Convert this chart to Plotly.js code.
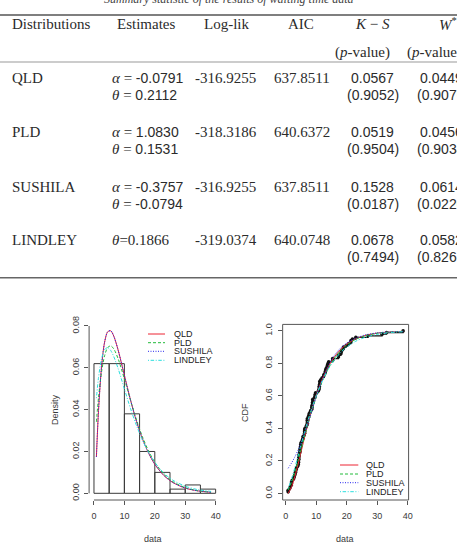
<!DOCTYPE html>
<html>
<head>
<meta charset="utf-8">
<script src="https://cdn.plot.ly/plotly-3.0.1.min.js"></script>
<style>
  html, body { margin: 0; padding: 0; background: #fff; }
  #chart { width: 457px; height: 544px; }
</style>
</head>
<body>
<div id="chart"></div>
<script>
// ---- Table of fitted distributions ----
const distributions = ['QLD', 'PLD', 'SUSHILA', 'LINDLEY'];
const estimateAlpha = ['-0.0791', '1.0830', '-0.3757', null];
const estimateTheta = ['0.2112', '0.1531', '-0.0794', '0.1866'];
const logLik = ['-316.9255', '-318.3186', '-316.9255', '-319.0374'];
const aicValues = ['637.8511', '640.6372', '637.8511', '640.0748'];
const ksStat = ['0.0567', '0.0519', '0.1528', '0.0678'];
const ksPValue = ['0.9052', '0.9504', '0.0187', '0.7494'];
const wStat = ['0.0449', '0.0456', '0.0614', '0.0582'];
const wPValue = ['0.9076', '0.9034', '0.0220', '0.8265'];

// ---- Waiting time data (minutes) ----
const waitingTimes = [0.8, 0.8, 1.3, 1.5, 1.8, 1.9, 1.9, 2.1, 2.6, 2.7, 2.9, 3.1, 3.2, 3.3, 3.5, 3.6, 4.0, 4.1, 4.2, 4.2,
  4.3, 4.3, 4.4, 4.4, 4.6, 4.7, 4.7, 4.8, 4.9, 4.9, 5.0, 5.3, 5.5, 5.7, 5.7, 6.1, 6.2, 6.2, 6.2, 6.3,
  6.7, 6.9, 7.1, 7.1, 7.1, 7.1, 7.4, 7.6, 7.7, 8.0, 8.2, 8.6, 8.6, 8.6, 8.8, 8.8, 8.9, 8.9, 9.5, 9.6,
  9.7, 9.8, 10.7, 10.9, 11.0, 11.0, 11.1, 11.2, 11.2, 11.5, 11.9, 12.4, 12.5, 12.9, 13.0, 13.1, 13.3, 13.6, 13.7, 13.9,
  14.1, 15.4, 15.4, 17.3, 17.3, 18.1, 18.2, 18.4, 18.9, 19.0, 19.9, 20.6, 21.3, 21.4, 21.9, 23.0, 27.0, 31.6, 33.1, 38.5];

// Histogram (density scale), bins of width 5 starting at these points
const binStarts = [0, 5, 10, 15, 20, 25, 30, 35];
const binDensity = [0.062, 0.062, 0.038, 0.020, 0.010, 0.002, 0.004, 0.002];

// Fitted density curves
const densityX = [0.8, 1.5, 2.5, 3.5, 4.5, 5.5, 6.5, 8, 10, 12, 14, 16, 18, 20, 23, 26, 30, 34, 38.5];
const densityQLD = [0.0174, 0.0397, 0.0607, 0.0723, 0.0772, 0.0777, 0.0752, 0.0682, 0.0564, 0.0447, 0.0343, 0.0258, 0.0191, 0.0139, 0.0085, 0.0051, 0.0025, 0.0012, 0.0005];
const densityPLD = [0.0342, 0.0458, 0.0581, 0.0658, 0.0697, 0.0705, 0.0691, 0.0641, 0.0547, 0.0446, 0.0350, 0.0268, 0.0201, 0.0148, 0.0091, 0.0055, 0.0027, 0.0013, 0.0005];
const densitySushila = [0.0174, 0.0397, 0.0607, 0.0723, 0.0772, 0.0778, 0.0752, 0.0682, 0.0564, 0.0447, 0.0343, 0.0258, 0.0191, 0.0139, 0.0085, 0.0051, 0.0025, 0.0012, 0.0005];
const densityLindley = [0.0455, 0.0554, 0.0644, 0.0687, 0.0697, 0.0683, 0.0654, 0.0594, 0.0499, 0.0406, 0.0323, 0.0252, 0.0194, 0.0148, 0.0096, 0.0062, 0.0034, 0.0018, 0.0009];

// Fitted distribution functions
const cdfX = [0.8, 2, 3, 4, 5, 6, 7, 8, 10, 12, 14, 16, 18, 20, 23, 26, 30, 34, 38.5];
const cdfQLD = [0.0005, 0.0439, 0.1042, 0.1762, 0.2533, 0.3309, 0.4060, 0.4768, 0.6015, 0.7024, 0.7811, 0.8409, 0.8855, 0.9182, 0.9513, 0.9713, 0.9860, 0.9933, 0.9971];
const cdfPLD = [0.0208, 0.0736, 0.1316, 0.1973, 0.2667, 0.3372, 0.4062, 0.4722, 0.5914, 0.6907, 0.7702, 0.8317, 0.8784, 0.9131, 0.9485, 0.9700, 0.9858, 0.9934, 0.9973];
const cdfSushila = [0.155, 0.19, 0.225, 0.265, 0.31, 0.36, 0.41, 0.47, 0.595, 0.70, 0.785, 0.85, 0.895, 0.925, 0.955, 0.975, 0.988, 0.994, 0.997];
const cdfLindley = [0.0303, 0.0949, 0.1592, 0.2277, 0.2973, 0.3656, 0.4310, 0.4925, 0.6019, 0.6924, 0.7651, 0.8224, 0.8668, 0.9007, 0.9368, 0.9602, 0.9788, 0.9889, 0.9946];

// Legend / styles
const seriesNames = ['QLD', 'PLD', 'SUSHILA', 'LINDLEY'];
const seriesColors = ['#ec2433', '#22bb3a', '#2626ee', '#2adede'];
const seriesDash = ['solid', '3px,2px', '1px,1.5px', '1px,1.6px,3.5px,1.6px'];

// ---- geometry helpers (page pixels -> paper) ----
const W = 457, H = 544;
const px = x => x / W;
const py = y => 1 - y / H;

const SERIF = 'Liberation Serif, Times New Roman, serif';
const SANS = 'Liberation Sans, Arial, sans-serif';
const TXT = '#2b2b2b';

const annotations = [];
const shapes = [];

function note(x, y, text, opt) {
  opt = opt || {};
  annotations.push({
    xref: 'paper', yref: 'paper', x: px(x), y: py(y), text: text,
    showarrow: false, xanchor: opt.xanchor || 'center', yanchor: 'middle',
    textangle: opt.angle || 0,
    font: { family: opt.family || SERIF, size: opt.size || 15, color: opt.color || TXT }
  });
}
function hline(x0, x1, y, w, color) {
  shapes.push({ type: 'line', xref: 'paper', yref: 'paper', x0: px(x0), x1: px(x1), y0: py(y), y1: py(y),
    line: { color: color, width: w } });
}

// ---- Table ----
note(228.5, -0.8, '<i>Summary statistic of the results of waiting time data</i>', { size: 12, color: '#444' });
hline(0, 457, 15, 1.6, '#555');
note(10, 24, 'Distributions', { xanchor: 'left' });
note(145.8, 24, 'Estimates');
note(226.7, 24, 'Log-lik');
note(301, 24, 'AIC');
note(372.5, 24, '<i>K</i> − <i>S</i>');
note(437, 24, '<i>W</i><sup>*</sup>', { xanchor: 'left' });
note(362, 53, '(<i>p</i>-value)');
note(405, 53, '(<i>p</i>-value)', { xanchor: 'left' });
hline(0, 457, 62, 1, '#999');

const rowY = [78.3, 131.7, 186.7, 240];
const subGap = 17;
const sansNum = s => '<span style="font-family:Liberation Sans, Arial, sans-serif;font-size:14px">' + s + '</span>';
distributions.forEach((name, i) => {
  const y = rowY[i];
  note(10, y, name, { xanchor: 'left' });
  if (estimateAlpha[i] !== null) {
    note(110, y, '<i>α</i> = ' + sansNum(estimateAlpha[i]), { xanchor: 'left' });
    note(110, y + subGap, '<i>θ</i> = ' + sansNum(estimateTheta[i]), { xanchor: 'left' });
  } else {
    note(110, y, '<i>θ</i>=' + estimateTheta[i], { xanchor: 'left' });
  }
  note(225.8, y, logLik[i]);
  note(301.7, y, aicValues[i]);
  note(372, y, sansNum(ksStat[i]));
  note(372.5, y + subGap, sansNum('(' + ksPValue[i] + ')'));
  note(418.3, y, sansNum(wStat[i]), { xanchor: 'left' });
  note(415, y + subGap, sansNum('(' + wPValue[i] + ')'), { xanchor: 'left' });
});
hline(0, 457, 277.7, 1.6, '#666');

// ---- Plot frames ----
const left = { x0: 89.1, x1: 220.5, y0: 319.3, y1: 500 };
const right = { x0: 282.65, x1: 408.6, y0: 324.4, y1: 500 };

const AX = '#555';
const tickFont = { family: SANS, size: 9, color: '#3a3a3a' };

// left axis lines (only spanning the tick range)
shapes.push({ type: 'line', xref: 'paper', yref: 'y', x0: px(left.x0), x1: px(left.x0), y0: 0, y1: 0.08, line: { color: AX, width: 1 } });
shapes.push({ type: 'line', xref: 'x', yref: 'paper', x0: 0, x1: 40, y0: py(left.y1), y1: py(left.y1), line: { color: AX, width: 1 } });
// right box
shapes.push({ type: 'rect', xref: 'x2 domain', yref: 'y2 domain', x0: 0, x1: 1, y0: 0, y1: 1, line: { color: AX, width: 1 } });

// axis titles
note(55, 410, 'Density', { family: SANS, size: 9, angle: -90, color: '#3a3a3a' });
note(152.7, 538.7, 'data', { family: SANS, size: 9, color: '#3a3a3a' });
note(245, 413, 'CDF', { family: SANS, size: 9, angle: -90, color: '#3a3a3a' });
note(345, 539.3, 'data', { family: SANS, size: 9, color: '#3a3a3a' });

// manual legends
function legend(xs0, xs1, xt, ys) {
  seriesNames.forEach((n, i) => {
    shapes.push({ type: 'line', xref: 'paper', yref: 'paper', x0: px(xs0), x1: px(xs1), y0: py(ys[i]), y1: py(ys[i]),
      line: { color: seriesColors[i], width: 1, dash: seriesDash[i] } });
    note(xt, ys[i], n, { xanchor: 'left', family: SANS, size: 9, color: '#222' });
  });
}
legend(148, 165, 172, [334, 342.7, 351.3, 360.3]);
legend(340, 358.3, 363.5, [465, 474, 482.7, 491.7]);

// ---- Traces ----
const traces = [];
traces.push({
  type: 'bar', x: binStarts, y: binDensity, width: 5, offset: 0, xaxis: 'x', yaxis: 'y',
  marker: { color: 'rgba(255,255,255,0)', line: { color: '#3a3a3a', width: 1 } }, hoverinfo: 'skip'
});
[densityQLD, densityPLD, densitySushila, densityLindley].forEach((ys, i) => {
  traces.push({ type: 'scatter', mode: 'lines', x: densityX, y: ys, xaxis: 'x', yaxis: 'y',
    line: { color: seriesColors[i], width: 1, dash: seriesDash[i], shape: 'spline', smoothing: 0.8 } });
});

// empirical distribution function of the sample
const ecdfY = waitingTimes.map((_, i) => (i + 1) / waitingTimes.length);
traces.push({ type: 'scatter', mode: 'lines+markers', x: waitingTimes, y: ecdfY, xaxis: 'x2', yaxis: 'y2',
  line: { color: '#111', width: 1.2, shape: 'hv' }, marker: { color: '#111', size: 3.6 } });
[cdfQLD, cdfPLD, cdfSushila, cdfLindley].forEach((ys, i) => {
  traces.push({ type: 'scatter', mode: 'lines', x: cdfX, y: ys, xaxis: 'x2', yaxis: 'y2',
    line: { color: seriesColors[i], width: 1, dash: seriesDash[i], shape: 'spline', smoothing: 0.8 } });
});

const axisCommon = {
  showgrid: false, zeroline: false, showline: false, ticks: 'outside', ticklen: 4,
  tickcolor: AX, tickwidth: 1, tickfont: tickFont, fixedrange: true
};

const layout = {
  width: W, height: H, margin: { l: 0, r: 0, t: 0, b: 0 },
  paper_bgcolor: '#fff', plot_bgcolor: 'rgba(0,0,0,0)', showlegend: false, bargap: 0,
  xaxis: Object.assign({}, axisCommon, { domain: [px(left.x0), px(left.x1)], range: [-1.6, 41.6],
    tickvals: [0, 10, 20, 30, 40], anchor: 'y', ticklabelstandoff: 3 }),
  yaxis: Object.assign({}, axisCommon, { domain: [py(left.y1), py(left.y0)], range: [-0.0032, 0.0832],
    tickvals: [0, 0.02, 0.04, 0.06, 0.08], tickformat: '.2f', tickangle: -90, anchor: 'x', ticklabelstandoff: 2 }),
  xaxis2: Object.assign({}, axisCommon, { domain: [px(right.x0), px(right.x1)], range: [-1.0, 40.3],
    tickvals: [0, 10, 20, 30, 40], anchor: 'y2', ticklabelstandoff: 3 }),
  yaxis2: Object.assign({}, axisCommon, { domain: [py(right.y1), py(right.y0)], range: [-0.04, 1.04],
    tickvals: [0, 0.2, 0.4, 0.6, 0.8, 1.0], tickformat: '.1f', tickangle: -90, anchor: 'x2', ticklabelstandoff: 2 }),
  annotations: annotations,
  shapes: shapes
};

Plotly.newPlot('chart', traces, layout, { displayModeBar: false, staticPlot: true });
</script>
</body>
</html>
